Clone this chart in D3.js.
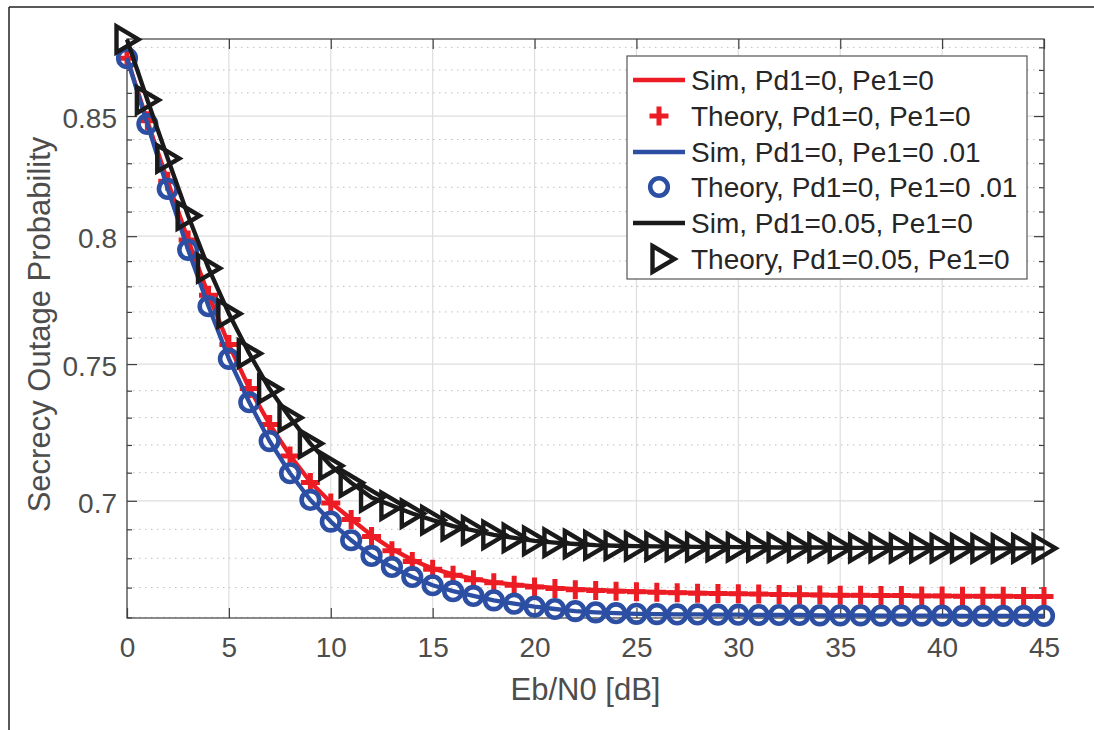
<!DOCTYPE html>
<html>
<head>
<meta charset="utf-8">
<script src="https://cdn.jsdelivr.net/npm/d3@7"></script>
<style>
  html, body { margin: 0; padding: 0; background: #fff; }
  svg { display: block; font-family: "Liberation Sans", Arial, Helvetica, sans-serif; }
</style>
</head>
<body>
<svg id="chart" width="1094" height="730"></svg>
<script>
// ---------- data ----------
const ebn0 = [0,1,2,3,4,5,6,7,8,9,10,11,12,13,14,15,16,17,18,19,20,21,22,23,24,25,26,27,28,29,30,31,32,33,34,35,36,37,38,39,40,41,42,43,44,45];

const simRed = [0.8752,0.8478,0.8224,0.7985,0.7766,0.7574,0.7409,0.7276,0.7162,0.7067,0.6994,0.6936,0.6879,0.6832,0.6794,0.6765,0.6745,0.6730,0.6718,0.6710,0.6704,0.6699,0.6695,0.6692,0.6689,0.6687,0.6685,0.6683,0.6682,0.6680,0.6679,0.6678,0.6677,0.6676,0.6675,0.6674,0.6674,0.6673,0.6673,0.6672,0.6672,0.6671,0.6671,0.6671,0.6670,0.6670];
const theoryRed = [0.8752,0.8480,0.8225,0.7985,0.7765,0.7574,0.7408,0.7275,0.7160,0.7065,0.6992,0.6934,0.6875,0.6826,0.6789,0.6762,0.6742,0.6727,0.6716,0.6708,0.6702,0.6697,0.6693,0.6690,0.6688,0.6686,0.6684,0.6683,0.6681,0.6680,0.6679,0.6678,0.6677,0.6676,0.6675,0.6674,0.6674,0.6673,0.6673,0.6672,0.6672,0.6671,0.6671,0.6671,0.6670,0.6670];

const simBlue = [0.8752,0.8466,0.8193,0.7945,0.7722,0.7520,0.7357,0.7214,0.7098,0.7003,0.6927,0.6862,0.6808,0.6770,0.6736,0.6708,0.6688,0.6672,0.6657,0.6646,0.6636,0.6628,0.6621,0.6617,0.6614,0.6612,0.6611,0.6610,0.6610,0.6609,0.6609,0.6608,0.6608,0.6608,0.6607,0.6607,0.6607,0.6606,0.6606,0.6606,0.6606,0.6605,0.6605,0.6605,0.6605,0.6605];
const theoryBlue = [0.8752,0.8466,0.8193,0.7945,0.7722,0.7520,0.7357,0.7214,0.7098,0.7003,0.6927,0.6862,0.6808,0.6770,0.6736,0.6708,0.6688,0.6672,0.6657,0.6646,0.6636,0.6628,0.6621,0.6617,0.6614,0.6612,0.6611,0.6610,0.6610,0.6609,0.6609,0.6608,0.6608,0.6608,0.6607,0.6607,0.6607,0.6606,0.6606,0.6606,0.6606,0.6605,0.6605,0.6605,0.6605,0.6605];

const simBlack = [0.8835,0.8569,0.8320,0.8083,0.7872,0.7693,0.7540,0.7406,0.7300,0.7205,0.7125,0.7064,0.7012,0.6983,0.6955,0.6932,0.6911,0.6896,0.6881,0.6870,0.6860,0.6854,0.6849,0.6845,0.6843,0.6842,0.6841,0.6840,0.6839,0.6839,0.6838,0.6838,0.6837,0.6837,0.6837,0.6836,0.6836,0.6836,0.6835,0.6835,0.6835,0.6835,0.6834,0.6834,0.6834,0.6834];
const theoryBlack = [0.8835,0.8569,0.8320,0.8083,0.7872,0.7693,0.7540,0.7406,0.7300,0.7205,0.7125,0.7064,0.7012,0.6983,0.6955,0.6932,0.6911,0.6896,0.6881,0.6870,0.6860,0.6854,0.6849,0.6845,0.6843,0.6842,0.6841,0.6840,0.6839,0.6839,0.6838,0.6838,0.6837,0.6837,0.6837,0.6836,0.6836,0.6836,0.6835,0.6835,0.6835,0.6835,0.6834,0.6834,0.6834,0.6834];

const xTicks = [0,5,10,15,20,25,30,35,40,45];
const yTicks = [0.7,0.75,0.8,0.85];
const yTickLabels = ["0.7","0.75","0.8","0.85"];
const yMinor = [0.66,0.67,0.68,0.69,0.71,0.72,0.73,0.74,0.76,0.77,0.78,0.79,0.81,0.82,0.83,0.84,0.86,0.87,0.88];

const legendLabels = ["Sim, Pd1=0, Pe1=0","Theory, Pd1=0, Pe1=0","Sim, Pd1=0, Pe1=0 .01","Theory, Pd1=0, Pe1=0 .01","Sim, Pd1=0.05, Pe1=0","Theory, Pd1=0.05, Pe1=0"];
const xLabel = "Eb/N0 [dB]";
const yLabel = "Secrecy Outage Probability";

// ---------- layout ----------
const L = 127, R = 1044, T = 39, B = 618;
const RED = "#ec1c24", BLUE = "#2c4fa3", BLACK = "#1a1a1a";

const svg = d3.select("#chart");

// figure frame (top and left edges)
svg.append("line").attr("x1", 9).attr("x2", 1094).attr("y1", 7).attr("y2", 7)
  .attr("stroke", "#222").attr("stroke-width", 1.5);
svg.append("line").attr("x1", 9).attr("x2", 9).attr("y1", 7).attr("y2", 730)
  .attr("stroke", "#222").attr("stroke-width", 1.5);

const x = d3.scaleLinear().domain([0, 45]).range([L, R]);
const y = d3.scaleLog().domain([0.6598, 0.8837]).range([B, T]);

// grid
const grid = svg.append("g");
grid.selectAll(".ymin").data(yMinor).join("line")
  .attr("x1", L).attr("x2", R).attr("y1", d => y(d)).attr("y2", d => y(d))
  .attr("stroke", "#bdbdbd").attr("stroke-width", 1).attr("stroke-dasharray", "1.5,4.5");
grid.selectAll(".ymaj").data(yTicks).join("line")
  .attr("x1", L).attr("x2", R).attr("y1", d => y(d)).attr("y2", d => y(d))
  .attr("stroke", "#dedede").attr("stroke-width", 1.2);
grid.selectAll(".xmaj").data(xTicks).join("line")
  .attr("y1", T).attr("y2", B).attr("x1", d => x(d)).attr("x2", d => x(d))
  .attr("stroke", "#dedede").attr("stroke-width", 1.2);

// axes
const tickColor = "#404040";
function styleAxis(g) {
  g.select(".domain").remove();
  g.selectAll(".tick line").attr("stroke", tickColor).attr("stroke-width", 1.2);
  g.selectAll(".tick text").attr("fill", "#4d4d4d").attr("font-size", 28)
    .attr("font-family", "Liberation Sans, Arial, sans-serif");
}
svg.append("g").attr("transform", `translate(0,${B})`)
  .call(d3.axisBottom(x).tickValues(xTicks).tickSize(-10).tickPadding(19).tickFormat(d3.format("d")))
  .call(styleAxis);
svg.append("g").attr("transform", `translate(0,${T})`)
  .call(d3.axisTop(x).tickValues(xTicks).tickSize(-10).tickFormat(""))
  .call(styleAxis);
svg.append("g").attr("transform", `translate(${L},0)`)
  .call(d3.axisLeft(y).tickValues(yTicks).tickSize(-10).tickPadding(10)
    .tickFormat((d, i) => yTickLabels[i]))
  .call(styleAxis)
  .call(g => g.selectAll(".tick text").attr("dy", "0.42em"));
svg.append("g").attr("transform", `translate(${R},0)`)
  .call(d3.axisRight(y).tickValues(yTicks).tickSize(-10).tickFormat(""))
  .call(styleAxis);
svg.append("g").attr("transform", `translate(${L},0)`)
  .call(d3.axisLeft(y).tickValues(yMinor).tickSize(-5).tickFormat(""))
  .call(styleAxis);
svg.append("g").attr("transform", `translate(${R},0)`)
  .call(d3.axisRight(y).tickValues(yMinor).tickSize(-5).tickFormat(""))
  .call(styleAxis);

// box
svg.append("rect").attr("x", L).attr("y", T).attr("width", R - L).attr("height", B - T)
  .attr("fill", "none").attr("stroke", tickColor).attr("stroke-width", 1.2);

// axis labels
svg.append("text").attr("x", (L + R) / 2).attr("y", 700).attr("text-anchor", "middle")
  .attr("font-size", 31).attr("fill", "#4d4d4d").text(xLabel);
svg.append("text").attr("transform", `translate(50,${(T + B) / 2 - 4}) rotate(-90)`)
  .attr("text-anchor", "middle").attr("font-size", 31).attr("fill", "#4d4d4d").text(yLabel);

// series
const line = d3.line().x((d, i) => x(ebn0[i])).y(d => y(d));
const plusPath = "M-9.5,0H9.5M0,-9.5V9.5";
const triPath = "M-10.5,-13L11.5,0L-10.5,13Z";

function drawLine(vals, color) {
  svg.append("path").datum(vals).attr("d", line).attr("fill", "none")
    .attr("stroke", color).attr("stroke-width", 4.3).attr("stroke-linejoin", "round");
}
function drawMarkers(vals, kind, color) {
  const g = svg.append("g");
  const sel = g.selectAll("g").data(vals).join("g")
    .attr("transform", (d, i) => `translate(${x(ebn0[i])},${y(d)})`);
  if (kind === "plus") {
    sel.append("path").attr("d", plusPath).attr("stroke", color).attr("stroke-width", 5).attr("fill", "none");
  } else if (kind === "circle") {
    sel.append("circle").attr("r", 8.8).attr("stroke", color).attr("stroke-width", 4.6).attr("fill", "none");
  } else {
    sel.append("path").attr("d", triPath).attr("stroke", color).attr("stroke-width", 4.4)
      .attr("fill", "none").attr("stroke-linejoin", "miter");
  }
}
drawLine(simRed, RED);
drawMarkers(theoryRed, "plus", RED);
drawLine(simBlue, BLUE);
drawMarkers(theoryBlue, "circle", BLUE);
drawLine(simBlack, BLACK);
drawMarkers(theoryBlack, "tri", BLACK);

// legend
const lg = svg.append("g");
lg.append("rect").attr("x", 627).attr("y", 56).attr("width", 400).attr("height", 223)
  .attr("fill", "#fff").attr("stroke", "#555").attr("stroke-width", 1.2);
const rowY = [80, 116, 152, 187, 223, 259];
const legKinds = [["line", RED], ["plus", RED], ["line", BLUE], ["circle", BLUE], ["line", BLACK], ["tri", BLACK]];
legKinds.forEach(([k, c], i) => {
  const cy = rowY[i];
  if (k === "line") {
    lg.append("line").attr("x1", 633).attr("x2", 685).attr("y1", cy).attr("y2", cy)
      .attr("stroke", c).attr("stroke-width", 4.3);
  } else if (k === "plus") {
    lg.append("path").attr("d", plusPath).attr("transform", `translate(659,${cy})`)
      .attr("stroke", c).attr("stroke-width", 5).attr("fill", "none");
  } else if (k === "circle") {
    lg.append("circle").attr("cx", 659).attr("cy", cy).attr("r", 8.8)
      .attr("stroke", c).attr("stroke-width", 4.6).attr("fill", "none");
  } else {
    lg.append("path").attr("d", triPath).attr("transform", `translate(663,${cy})`)
      .attr("stroke", c).attr("stroke-width", 4.4).attr("fill", "none");
  }
  lg.append("text").attr("x", 691).attr("y", cy + 10).attr("font-size", 28)
    .attr("fill", "#262626").text(legendLabels[i]);
});
</script>
</body>
</html>
